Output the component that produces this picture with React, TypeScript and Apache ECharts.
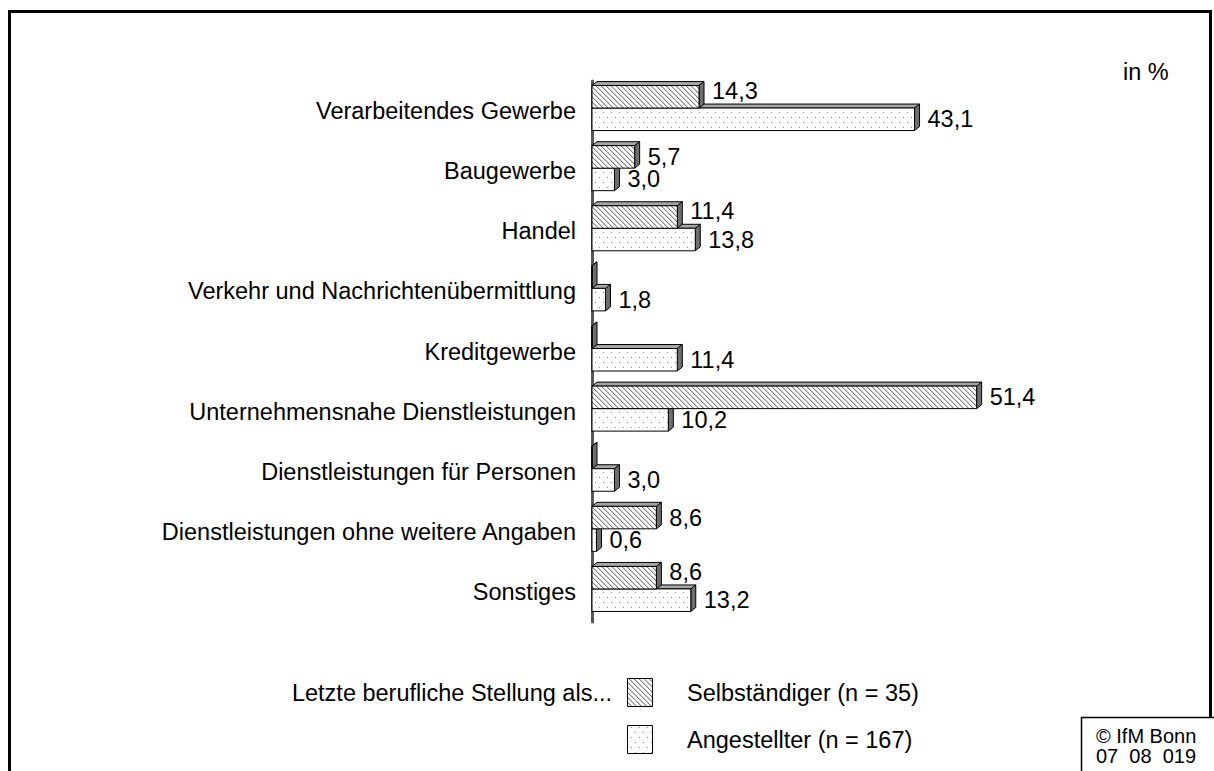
import React, { useEffect, useRef } from "react";
import * as echarts from "echarts";

const categories = [
  "Verarbeitendes Gewerbe",
  "Baugewerbe",
  "Handel",
  "Verkehr und Nachrichtenübermittlung",
  "Kreditgewerbe",
  "Unternehmensnahe Dienstleistungen",
  "Dienstleistungen für Personen",
  "Dienstleistungen ohne weitere Angaben",
  "Sonstiges",
];
const selbstaendiger = [14.3, 5.7, 11.4, 0, 0, 51.4, 0, 8.6, 8.6];
const angestellter = [43.1, 3.0, 13.8, 1.8, 11.4, 10.2, 3.0, 0.6, 13.2];
const seriesNames = ["Selbständiger (n = 35)", "Angestellter (n = 167)"];
const legendTitle = "Letzte berufliche Stellung als...";
const unitLabel = "in %";
const copyright = ["© IfM Bonn", "07  08  019"];

const FONT = '"Liberation Sans", Arial, sans-serif';
const FS = 23.5;
const fmt = (v: number) => v.toFixed(1).replace(".", ",");

function makeHatch() {
  const s = 5;
  const c = document.createElement("canvas");
  c.width = s;
  c.height = s;
  const ctx = c.getContext("2d")!;
  ctx.fillStyle = "#fff";
  ctx.fillRect(0, 0, s, s);
  for (let y = 0; y < s; y++) {
    ctx.fillStyle = "#808080";
    ctx.fillRect(y % s, y, 1, 1);
    ctx.fillStyle = "#d0d0d0";
    ctx.fillRect((y + 1) % s, y, 1, 1);
  }
  return c;
}

function makeDots() {
  const c = document.createElement("canvas");
  c.width = 8;
  c.height = 10;
  const ctx = c.getContext("2d")!;
  ctx.fillStyle = "#fff";
  ctx.fillRect(0, 0, 8, 10);
  ctx.fillStyle = "#8a8a8a";
  ctx.fillRect(3, 2, 1, 1);
  ctx.fillRect(7, 7, 1, 1);
  return c;
}

export default function App() {
  const ref = useRef<HTMLDivElement>(null);
  useEffect(() => {
    const chart = echarts.init(ref.current!, null, { renderer: "svg" });
    const hatchFill: any = { image: makeHatch(), repeat: "repeat" };
    const dotFill: any = { image: makeDots(), repeat: "repeat" };

    const makeRender = (kind: "S" | "A") => (params: any, api: any) => {
      const v = api.value(0);
      const i = api.value(1);
      const p1 = api.coord([v, i]);
      const p0 = api.coord([0, i]);
      const x0 = p0[0];
      const x1 = p1[0];
      const yc = p1[1];
      const h = 22.5;
      const shift = 3;
      const dx = 5;
      const dy = 4;
      const top = kind === "S" ? yc - shift - h : yc - shift;
      const fill = kind === "S" ? hatchFill : dotFill;
      const children: any[] = [
        {
          type: "polygon",
          shape: { points: [[x0, top], [x0 + dx, top - dy], [x1 + dx, top - dy], [x1, top]] },
          style: { fill: "#a6a6a6", stroke: "#000", lineWidth: 1 },
        },
        {
          type: "polygon",
          shape: { points: [[x1, top], [x1 + dx, top - dy], [x1 + dx, top + h - dy], [x1, top + h]] },
          style: { fill: "#6e6e6e", stroke: "#000", lineWidth: 1 },
        },
        {
          type: "rect",
          shape: { x: x0, y: top, width: x1 - x0, height: h },
          style: { fill, stroke: "#000", lineWidth: 1 },
        },
      ];
      if (v > 0) {
        const up = kind === "S" && angestellter[i] > v ? 6 : 0;
        children.push({
          type: "text",
          style: {
            text: fmt(v),
            x: x1 + dx + 8,
            y: top + h / 2 - up,
            fill: "#000",
            fontSize: FS,
            fontFamily: FONT,
            verticalAlign: "middle",
            align: "left",
          },
        });
      }
      return { type: "group", children };
    };

    const option: any = {
      animation: false,
      backgroundColor: "#fff",
      grid: { left: 592, top: 81, width: 449, height: 541 },
      xAxis: { type: "value", min: 0, max: 60, show: false },
      yAxis: {
        type: "category",
        inverse: true,
        data: categories,
        axisTick: { show: false },
        axisLine: { show: true, lineStyle: { color: "#555", width: 3 } },
        axisLabel: { fontSize: FS, color: "#000", fontFamily: FONT, margin: 16 },
        splitLine: { show: false },
      },
      series: [
        {
          name: seriesNames[1],
          type: "custom",
          coordinateSystem: "cartesian2d",
          encode: { x: 0, y: 1 },
          data: angestellter.map((v, i) => [v, i]),
          renderItem: makeRender("A"),
          z: 2,
        },
        {
          name: seriesNames[0],
          type: "custom",
          coordinateSystem: "cartesian2d",
          encode: { x: 0, y: 1 },
          data: selbstaendiger.map((v, i) => [v, i]),
          renderItem: makeRender("S"),
          z: 3,
        },
      ],
      graphic: [
        {
          type: "rect",
          shape: { x: 9.5, y: 11.5, width: 1201, height: 800 },
          style: { fill: "none", stroke: "#000", lineWidth: 3 },
          silent: true,
        },
        {
          type: "text",
          x: 1123,
          y: 72,
          style: { text: unitLabel, fontSize: FS, fontFamily: FONT, fill: "#000", verticalAlign: "middle" },
        },
        {
          type: "text",
          x: 612,
          y: 693,
          style: { text: legendTitle, fontSize: FS, fontFamily: FONT, fill: "#000", align: "right", verticalAlign: "middle" },
        },
        {
          type: "rect",
          shape: { x: 627.5, y: 678.5, width: 25, height: 28 },
          style: { fill: hatchFill, stroke: "#000", lineWidth: 1 },
        },
        {
          type: "text",
          x: 687,
          y: 693,
          style: { text: seriesNames[0], fontSize: FS, fontFamily: FONT, fill: "#000", verticalAlign: "middle" },
        },
        {
          type: "rect",
          shape: { x: 627.5, y: 725.5, width: 25, height: 28 },
          style: { fill: dotFill, stroke: "#000", lineWidth: 1 },
        },
        {
          type: "text",
          x: 687,
          y: 740,
          style: { text: seriesNames[1], fontSize: FS, fontFamily: FONT, fill: "#000", verticalAlign: "middle" },
        },
        {
          type: "rect",
          shape: { x: 1081.5, y: 717.5, width: 140, height: 100 },
          style: { fill: "#fff", stroke: "#000", lineWidth: 1.5 },
        },
        {
          type: "text",
          x: 1096,
          y: 736,
          style: { text: copyright[0], fontSize: 20, fontFamily: FONT, fill: "#000", verticalAlign: "middle" },
        },
        {
          type: "text",
          x: 1096,
          y: 756,
          style: { text: copyright[1], fontSize: 20, fontFamily: FONT, fill: "#000", verticalAlign: "middle" },
        },
      ],
    };
    chart.setOption(option);
    return () => chart.dispose();
  }, []);
  return (
    <div
      ref={ref}
      style={{ position: "absolute", left: 0, top: 0, width: 1214, height: 771 }}
    />
  );
}
